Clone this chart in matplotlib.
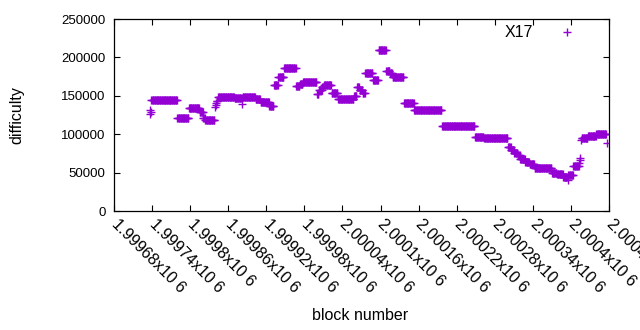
import numpy as np
import matplotlib
matplotlib.use("Agg")
import matplotlib.pyplot as plt

plt.rcParams['font.family'] = ['Liberation Sans', 'DejaVu Sans']

# difficulty held constant over runs of blocks: (first block, last block, value)
block_start = [1999736, 1999737, 1999738, 1999739, 1999780, 1999798, 1999815, 1999821,
               1999824, 1999839, 1999840, 1999841, 1999842, 1999844, 1999859, 1999870,
               1999882, 1999883, 1999903, 1999911, 1999925, 1999932, 1999939, 1999948,
               1999967, 1999973, 1999978, 2000000, 2000003, 2000008, 2000011, 2000023,
               2000033, 2000044, 2000058, 2000063, 2000067, 2000072, 2000076, 2000088,
               2000097, 2000109, 2000115, 2000119, 2000137, 2000153, 2000197, 2000249,
               2000263, 2000301, 2000306, 2000311, 2000316, 2000320, 2000328, 2000335,
               2000343, 2000370, 2000378, 2000388, 2000395, 2000396, 2000404, 2000413,
               2000414, 2000415, 2000416, 2000417, 2000427, 2000440, 2000457]
block_end = [1999736, 1999737, 1999738, 1999779, 1999797, 1999814, 1999820, 1999823,
             1999838, 1999839, 1999840, 1999841, 1999843, 1999858, 1999869, 1999881,
             1999882, 1999902, 1999910, 1999924, 1999931, 1999938, 1999947, 1999966,
             1999972, 1999977, 1999999, 2000002, 2000007, 2000010, 2000022, 2000032,
             2000043, 2000057, 2000062, 2000066, 2000071, 2000075, 2000087, 2000096,
             2000108, 2000114, 2000118, 2000136, 2000152, 2000196, 2000248, 2000262,
             2000300, 2000305, 2000310, 2000315, 2000319, 2000327, 2000334, 2000342,
             2000369, 2000377, 2000387, 2000394, 2000395, 2000403, 2000412, 2000413,
             2000414, 2000415, 2000416, 2000426, 2000439, 2000455, 2000457]
difficulty = [126300, 131500, 128500, 144000, 120500, 133500, 129000, 121500,
              118000, 135000, 137500, 140000, 143500, 147800, 149000, 147000,
              139000, 148000, 145400, 142300, 136700, 164700, 174500, 185800,
              162400, 165400, 168400, 152300, 157500, 161400, 164000, 153200,
              145400, 146200, 149700, 161500, 157000, 154000, 180300, 170100,
              209200, 181800, 180000, 174000, 140200, 131100, 110300, 97000,
              94700, 83000, 79000, 76000, 72500, 68000, 63500, 61500,
              55600, 50000, 48500, 44700, 40400, 46900, 58600, 63000,
              66400, 69000, 92400, 95000, 97700, 100300, 88500]

blocks = []
values = []
for s, e, v in zip(block_start, block_end, difficulty):
    for b in range(s, e + 1):
        blocks.append(b)
        values.append(v)

xticks = np.arange(1999680, 2000461, 60)
xlabels = ["%gx10 6" % (t / 1e6) for t in xticks]

fig = plt.figure(figsize=(6.4, 3.3), dpi=100)
ax = fig.add_axes([114 / 640, 1 - 211 / 330, 495 / 640, 192 / 330])

ax.plot(blocks, values, linestyle='none', marker='+', color='#9400d3',
        markersize=6, markeredgewidth=1.0, label='X17')

ax.set_xlim(1999680, 2000460)
ax.set_ylim(0, 250000)
ax.set_yticks(np.arange(0, 250001, 50000))
ax.set_yticklabels([str(v) for v in range(0, 250001, 50000)], fontsize=9.5)
ax.set_xticks(xticks)
ax.set_xticklabels(xlabels, fontsize=11.5, rotation=-45, ha='left', va='center',
                   rotation_mode='anchor')

ax.tick_params(direction='in', length=4, width=0.8, top=True, right=True, pad=6)
ax.tick_params(axis='x', pad=8)
for sp in ax.spines.values():
    sp.set_linewidth(0.9)

ax.set_xlabel('block number', fontsize=11.5)
ax.set_ylabel('difficulty', fontsize=11.5)
ax.xaxis.set_label_coords(0.497, -0.505)
ax.yaxis.set_label_coords(-0.182, 0.5)

ax.legend(loc='upper right', bbox_to_anchor=(0.992, 1.042), frameon=False,
          markerfirst=False, numpoints=1, handlelength=3.0, handletextpad=0.6,
          fontsize=11.5)

fig.savefig('out.png', dpi=100)
